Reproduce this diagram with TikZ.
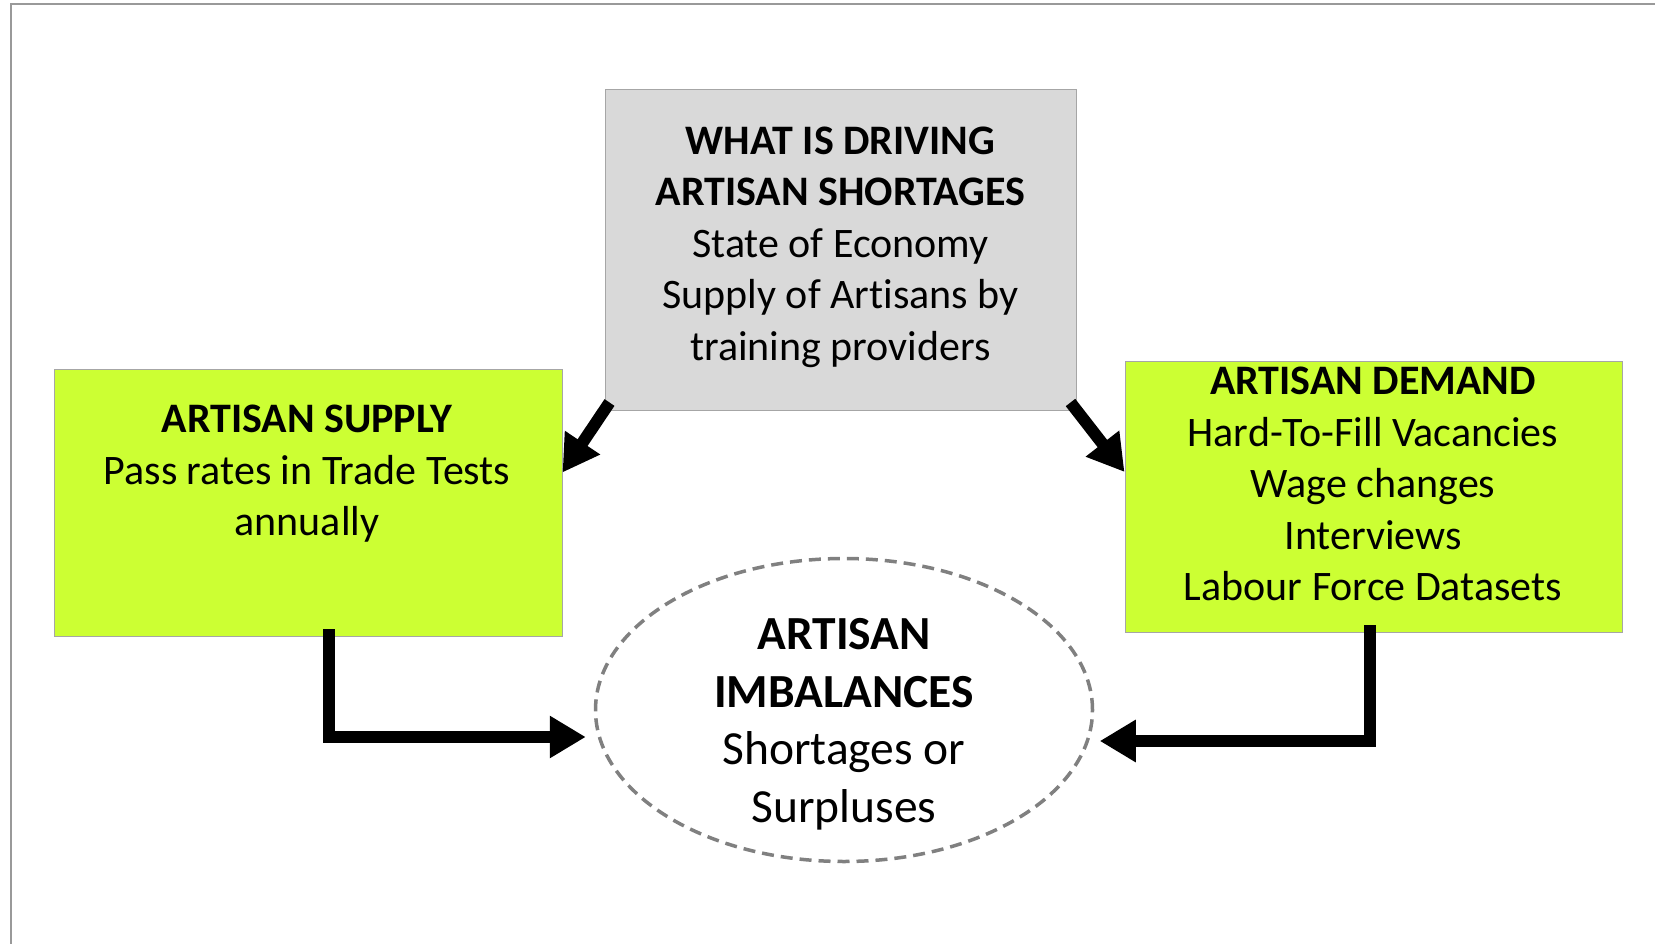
\documentclass[tikz,border=0pt]{standalone}
\usepackage{fontspec}
\setmainfont{Carlito}[Ligatures=NoCommon]
\usetikzlibrary{arrows.meta,shapes.geometric}
\definecolor{lime}{HTML}{CCFF33}
\definecolor{greyfill}{HTML}{D9D9D9}
\definecolor{edgegrey}{HTML}{A6A6A6}
\definecolor{dashgrey}{HTML}{808080}
\definecolor{framegrey}{HTML}{999999}
\tikzset{
  greenbox/.style={draw=edgegrey,line width=1pt,fill=lime,inner sep=0pt},
  greybox/.style={draw=edgegrey,line width=1pt,fill=greyfill,inner sep=0pt},
  imbbox/.style={ellipse,draw=dashgrey,line width=3.5pt,dash pattern=on 12pt off 7pt,inner sep=0pt,minimum width=497pt,minimum height=303pt},
  txt/.style={align=center,inner sep=0pt,font=\fontsize{42}{51.5}\selectfont},
  bigtxt/.style={align=center,inner sep=0pt,font=\fontsize{47.5}{57.5}\selectfont},
  bigarrow/.style={line width=12pt,-{Triangle[length=36pt,width=40pt]}},
  elbowarrow/.style={line width=12pt,line cap=rect,-{Triangle[length=36pt,width=40pt]}},
}
\begin{document}
\begin{tikzpicture}[x=1pt,y=-1pt]
\useasboundingbox (0,0) rectangle (1655,944);
% frame
\coordinate (ftl) at (11,4);
\coordinate (ftr) at (1655,4);
\coordinate (fbl) at (11,944);
\draw[framegrey,line width=2pt] (fbl) -- (ftl) -- (ftr);
% boxes
\node[greybox,minimum width=471pt,minimum height=320pt] (driver) at (840.5,250) {};
\node[greenbox,minimum width=508pt,minimum height=267pt] (supply) at (308,502.5) {};
\node[greenbox,minimum width=497pt,minimum height=271pt] (demand) at (1373.5,496.5) {};
\node[imbbox] (imb) at (844,710) {};
% texts
\node[txt] (drivertxt) at (840.5,247) {\textbf{WHAT IS DRIVING}\\\textbf{ARTISAN SHORTAGES}\\State of Economy\\Supply of Artisans by\\training providers};
\node[txt] (supplytxt) at (307,474) {\textbf{ARTISAN SUPPLY}\\Pass rates in Trade Tests\\annually};
\node[txt] (demandtxt) at (1373,484) {\textbf{ARTISAN DEMAND}\\Hard-To-Fill Vacancies\\Wage changes\\Interviews\\Labour Force Datasets};
\node[bigtxt] (imbtxt) at (844,724) {\textbf{ARTISAN}\\\textbf{IMBALANCES}\\Shortages or\\Surpluses};
% connectors
\draw[bigarrow] ([xshift=5pt,yshift=8pt]driver.south west) -- ([yshift=30pt]supply.east);
\draw[bigarrow] ([xshift=-6pt,yshift=8pt]driver.south east) -- ([yshift=24.5pt]demand.west);
\draw[elbowarrow] ([xshift=21pt,yshift=2pt]supply.south) |- ([xshift=-8pt,yshift=-27pt]imb.west);
\draw[elbowarrow] ([xshift=-3.5pt,yshift=2pt]demand.south) |- ([xshift=5.5pt,yshift=-31pt]imb.east);
\end{tikzpicture}
\end{document}
